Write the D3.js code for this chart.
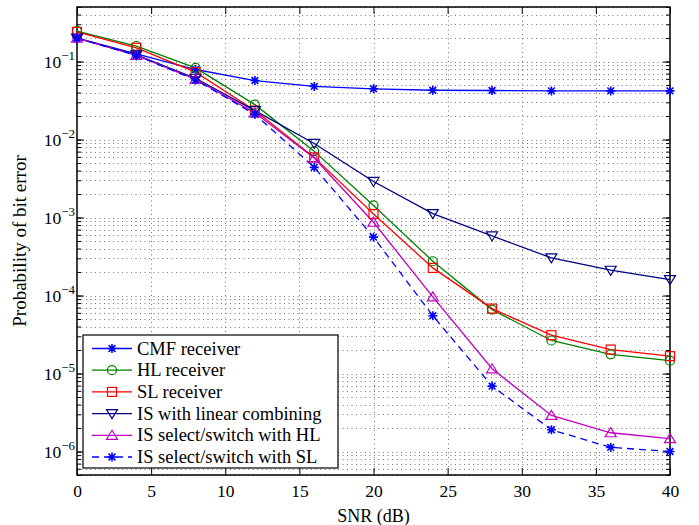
<!DOCTYPE html>
<html><head><meta charset="utf-8">
<script src="https://cdn.jsdelivr.net/npm/d3@7"></script>
<style>body{margin:0;background:#fff}svg{display:block}text{font-family:"Liberation Serif","Times New Roman",serif;fill:#000}</style>
</head><body><svg id="c" width="699" height="525"></svg>
<script>
const snr = [0,4,8,12,16,20,24,28,32,36,40];
const cmf = [0.2,0.125,0.079,0.057,0.048,0.0447,0.0428,0.0425,0.042,0.042,0.042];
const hl = [0.245,0.158,0.083,0.028,0.0071,0.00143,0.000275,6.6e-5,2.65e-5,1.76e-5,1.46e-5];
const sl = [0.24,0.15,0.073,0.0235,0.0059,0.00111,0.000226,6.8e-5,3.1e-5,2.03e-5,1.67e-5];
const isLin = [0.2,0.122,0.061,0.0235,0.0089,0.0029,0.00112,5.8e-4,3.04e-4,2.11e-4,1.6e-4];
const isHL = [0.2,0.12,0.059,0.022,0.0058,8.7e-4,9.6e-5,1.15e-5,2.9e-6,1.74e-6,1.46e-6];
const isSL = [0.2,0.12,0.058,0.021,0.0044,5.6e-4,5.5e-5,6.9e-6,1.9e-6,1.13e-6,1.0e-6];
const seriesNames = ["CMF receiver","HL receiver","SL receiver","IS with linear combining","IS select/switch with HL","IS select/switch with SL"];
const xTicks = [0,5,10,15,20,25,30,35,40];
const yTickExps = [-6,-5,-4,-3,-2,-1];

const series = [
  {name:seriesNames[0], v:cmf, color:"#0000ff", marker:"star", dash:null},
  {name:seriesNames[1], v:hl, color:"#008000", marker:"circle", dash:null},
  {name:seriesNames[2], v:sl, color:"#ff0000", marker:"square", dash:null},
  {name:seriesNames[3], v:isLin, color:"#000080", marker:"tdown", dash:null},
  {name:seriesNames[4], v:isHL, color:"#bf00bf", marker:"tup", dash:null},
  {name:seriesNames[5], v:isSL, color:"#0000ff", marker:"star", dash:"7,5"}
];

const svg = d3.select("#c");
const L=77, R=670, T=7, B=475;
const x = d3.scaleLinear().domain([0,40]).range([L,R]);
const y = d3.scaleLog().domain([5e-7,0.5]).range([B,T]);

// grid
const g = svg.append("g");
const minorY = [];
for (let e=-7;e<=0;e++) for (let k=1;k<=9;k++){const v=k*Math.pow(10,e); if(v>=5e-7*0.999 && v<=0.5*1.001) minorY.push(v);}
g.selectAll(".gy").data(minorY).enter().append("line")
 .attr("x1",L).attr("x2",R).attr("y1",d=>Math.round(y(d))+0.5).attr("y2",d=>Math.round(y(d))+0.5)
 .attr("stroke","#777").attr("stroke-width",1).attr("stroke-dasharray","1,3.5");
g.selectAll(".gx").data(xTicks.slice(1,-1)).enter().append("line")
 .attr("y1",T).attr("y2",B).attr("x1",d=>Math.round(x(d))+0.5).attr("x2",d=>Math.round(x(d))+0.5)
 .attr("stroke","#777").attr("stroke-width",1).attr("stroke-dasharray","1,3.5");

// axes box and ticks
const ax = svg.append("g");
const xb = d3.axisBottom(x).tickValues(xTicks).tickSize(-7).tickPadding(10).tickFormat(d3.format("d"));
const xt = d3.axisTop(x).tickValues(xTicks).tickSize(-7).tickFormat("");
const ylAxis = d3.axisLeft(y).tickValues(minorY).tickSize(-4).tickFormat("");
const yrAxis = d3.axisRight(y).tickValues(minorY).tickSize(-4).tickFormat("");
const majY = yTickExps.map(e=>Math.pow(10,e));
const ylMaj = d3.axisLeft(y).tickValues(majY).tickSize(-7).tickFormat("");
const yrMaj = d3.axisRight(y).tickValues(majY).tickSize(-7).tickFormat("");
function style(sel){sel.select(".domain").remove(); sel.selectAll("line").attr("stroke","#000"); sel.selectAll("text").attr("font-size",17.5);}
ax.append("g").attr("transform",`translate(0,${B})`).call(xb).call(style);
ax.append("g").attr("transform",`translate(0,${T})`).call(xt).call(style);
ax.append("g").attr("transform",`translate(${L},0)`).call(ylAxis).call(style);
ax.append("g").attr("transform",`translate(${R},0)`).call(yrAxis).call(style);
ax.append("g").attr("transform",`translate(${L},0)`).call(ylMaj).call(style);
ax.append("g").attr("transform",`translate(${R},0)`).call(yrMaj).call(style);
ax.append("rect").attr("x",L).attr("y",T).attr("width",R-L).attr("height",B-T).attr("fill","none").attr("stroke","#000").attr("stroke-width",1.5);

// y tick labels with superscripts
yTickExps.forEach(e=>{
  const t = svg.append("text").attr("x",L-2).attr("y",y(Math.pow(10,e))+6).attr("text-anchor","end").attr("font-size",17.5);
  t.append("tspan").text("10");
  t.append("tspan").attr("dy",-8).attr("font-size",13).text("\u2212"+(-e));
});

svg.append("text").attr("x",(L+R)/2).attr("y",522).attr("text-anchor","middle").attr("font-size",18).text("SNR (dB)");
svg.append("text").attr("transform",`translate(26,${(T+B)/2}) rotate(-90)`).attr("text-anchor","middle").attr("font-size",19).text("Probability of bit error");

// lines
const line = d3.line().x((d,i)=>x(snr[i])).y(d=>y(d));
const pl = svg.append("g");
function drawMarker(gg, type, cx, cy, color){
  const s=4.5;
  if(type==="star"){
    const p = `M${cx-s},${cy}L${cx+s},${cy}M${cx},${cy-s}L${cx},${cy+s}M${cx-s*0.75},${cy-s*0.75}L${cx+s*0.75},${cy+s*0.75}M${cx-s*0.75},${cy+s*0.75}L${cx+s*0.75},${cy-s*0.75}`;
    gg.append("path").attr("d",p).attr("stroke",color).attr("stroke-width",1.6).attr("fill","none");
  } else if(type==="circle"){
    gg.append("circle").attr("cx",cx).attr("cy",cy).attr("r",s).attr("stroke",color).attr("fill","none").attr("stroke-width",1.2);
  } else if(type==="square"){
    gg.append("rect").attr("x",cx-s).attr("y",cy-s).attr("width",2*s).attr("height",2*s).attr("stroke",color).attr("fill","none").attr("stroke-width",1.2);
  } else if(type==="tdown"){
    gg.append("path").attr("d",`M${cx-5.5},${cy-4}L${cx+5.5},${cy-4}L${cx},${cy+5}Z`).attr("stroke",color).attr("fill","none").attr("stroke-width",1.2);
  } else if(type==="tup"){
    gg.append("path").attr("d",`M${cx-5.5},${cy+4}L${cx+5.5},${cy+4}L${cx},${cy-5}Z`).attr("stroke",color).attr("fill","none").attr("stroke-width",1.2);
  }
}
series.forEach(s=>{
  pl.append("path").datum(s.v).attr("d",line).attr("fill","none").attr("stroke",s.color).attr("stroke-width",1.3)
    .attr("stroke-dasharray",s.dash);
});
series.forEach(s=>{
  const mg = pl.append("g");
  s.v.forEach((v,i)=>drawMarker(mg,s.marker,x(snr[i]),y(v),s.color));
});

// legend
const lg = svg.append("g");
const lx=83, ly=335, lw=255, lh=133;
lg.append("rect").attr("x",lx).attr("y",ly).attr("width",lw).attr("height",lh).attr("fill","#fff").attr("stroke","#000").attr("stroke-width",1.2);
series.forEach((s,i)=>{
  const yy = 348.5 + i*21.7;
  lg.append("line").attr("x1",92).attr("x2",132).attr("y1",yy).attr("y2",yy).attr("stroke",s.color).attr("stroke-width",1.3).attr("stroke-dasharray",s.dash);
  drawMarker(lg,s.marker,112,yy,s.color);
  lg.append("text").attr("x",137).attr("y",yy+6).attr("font-size",18.5).text(s.name);
});
</script></body></html>
